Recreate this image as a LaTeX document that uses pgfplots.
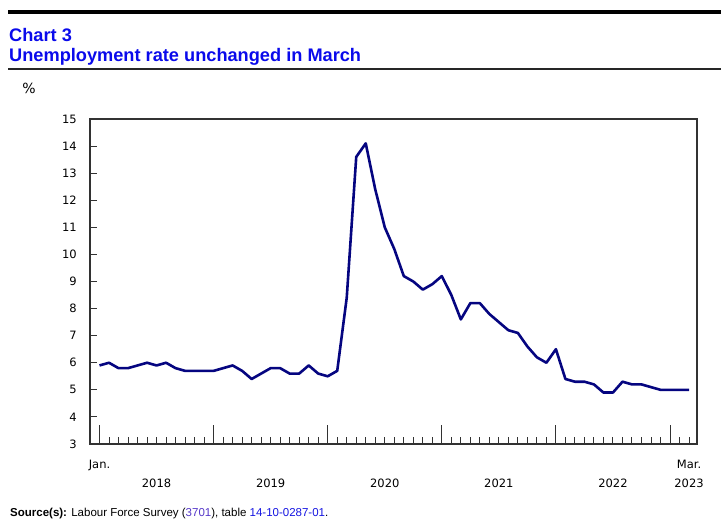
\documentclass[border=0pt]{standalone}
\usepackage{pgfplots}
\pgfplotsset{compat=1.18}
\usepackage{fontspec}
\setmainfont{DejaVu Sans}
\newfontfamily\arial{Liberation Sans}
\definecolor{titleblue}{RGB}{10,10,235}
\definecolor{navyline}{RGB}{5,5,128}
\definecolor{linkpurple}{RGB}{85,55,200}
\definecolor{linkblue}{RGB}{20,20,225}
\definecolor{axisgray}{RGB}{50,50,50}
\pgfplotstableread{
x y
0 5.9
1 6.0
2 5.8
3 5.8
4 5.9
5 6.0
6 5.9
7 6.0
8 5.8
9 5.7
10 5.7
11 5.7
12 5.7
13 5.8
14 5.9
15 5.7
16 5.4
17 5.6
18 5.8
19 5.8
20 5.6
21 5.6
22 5.9
23 5.6
24 5.5
25 5.7
26 8.4
27 13.6
28 14.1
29 12.4
30 11.0
31 10.2
32 9.2
33 9.0
34 8.7
35 8.9
36 9.2
37 8.5
38 7.6
39 8.2
40 8.2
41 7.8
42 7.5
43 7.2
44 7.1
45 6.6
46 6.2
47 6.0
48 6.5
49 5.4
50 5.3
51 5.3
52 5.2
53 4.9
54 4.9
55 5.3
56 5.2
57 5.2
58 5.1
59 5.0
60 5.0
61 5.0
62 5.0
}\unemp
\begin{document}
\begin{tikzpicture}[x=1bp,y=1bp]
\useasboundingbox (0,0) rectangle (721,525);
% header rules and title
\draw[line width=3.5bp,black] (8,513) -- (721,513);
\draw[line width=1.5bp,black!85] (8,456) -- (721,456);
\node[anchor=base west,inner sep=0pt,text=titleblue,font=\arial\bfseries\fontsize{18.2bp}{20bp}\selectfont] at (9,483.3) {Chart 3};
\node[anchor=base west,inner sep=0pt,text=titleblue,font=\arial\bfseries\fontsize{18.2bp}{20bp}\selectfont] at (9,463.3) {Unemployment rate unchanged in March};
\node[inner sep=0pt,font=\fontsize{14bp}{15bp}\selectfont] at (29,437) {\%};
% source
\node[anchor=base west,inner sep=0pt,font=\arial\fontsize{11.5bp}{13bp}\selectfont] at (10,8.3) {\textbf{Source(s):} Labour Force Survey (\textcolor{linkpurple}{3701}), table \textcolor{linkblue}{14-10-0287-01}.};
\begin{axis}[
  at={(90bp,81bp)}, anchor=south west,
  width=607bp, height=325bp, scale only axis,
  xmin=-1, xmax=62.84, ymin=3, ymax=15,
  axis line style={axisgray, line width=1.2bp},
  tick style={axisgray, line width=1bp},
  tick align=inside,
  xtick pos=bottom, ytick pos=left,
  major tick length=6.5bp,
  ytick={3,4,...,15},
  yticklabel style={anchor=east, inner sep=0pt, xshift=-13bp, font=\fontsize{11.5bp}{13bp}\selectfont},
  /pgf/number format/assume math mode=true,
  xtick={0,1,...,62},
  xticklabels={},
  clip=false,
]
\addplot[navyline, line width=2.6bp, line join=round] table[x=x,y=y] {\unemp};
\pgfplotsinvokeforeach{0,12,24,36,48,60}{
  \draw[axisgray, line width=1bp] (axis cs:#1,3) -- (axis cs:#1,3.7);
}
\node[anchor=base,inner sep=0pt,font=\fontsize{11.5bp}{13bp}\selectfont] at (axis cs:0,3) [yshift=-24.3bp] {Jan.};
\node[anchor=base,inner sep=0pt,font=\fontsize{11.5bp}{13bp}\selectfont] at (axis cs:62,3) [yshift=-24.3bp] {Mar.};
\node[anchor=base,inner sep=0pt,font=\fontsize{11.5bp}{13bp}\selectfont] at (axis cs:6,3) [yshift=-43.7bp] {2018};
\node[anchor=base,inner sep=0pt,font=\fontsize{11.5bp}{13bp}\selectfont] at (axis cs:18,3) [yshift=-43.7bp] {2019};
\node[anchor=base,inner sep=0pt,font=\fontsize{11.5bp}{13bp}\selectfont] at (axis cs:30,3) [yshift=-43.7bp] {2020};
\node[anchor=base,inner sep=0pt,font=\fontsize{11.5bp}{13bp}\selectfont] at (axis cs:42,3) [yshift=-43.7bp] {2021};
\node[anchor=base,inner sep=0pt,font=\fontsize{11.5bp}{13bp}\selectfont] at (axis cs:54,3) [yshift=-43.7bp] {2022};
\node[anchor=base,inner sep=0pt,font=\fontsize{11.5bp}{13bp}\selectfont] at (axis cs:62,3) [yshift=-43.7bp] {2023};
\end{axis}
\end{tikzpicture}
\end{document}
